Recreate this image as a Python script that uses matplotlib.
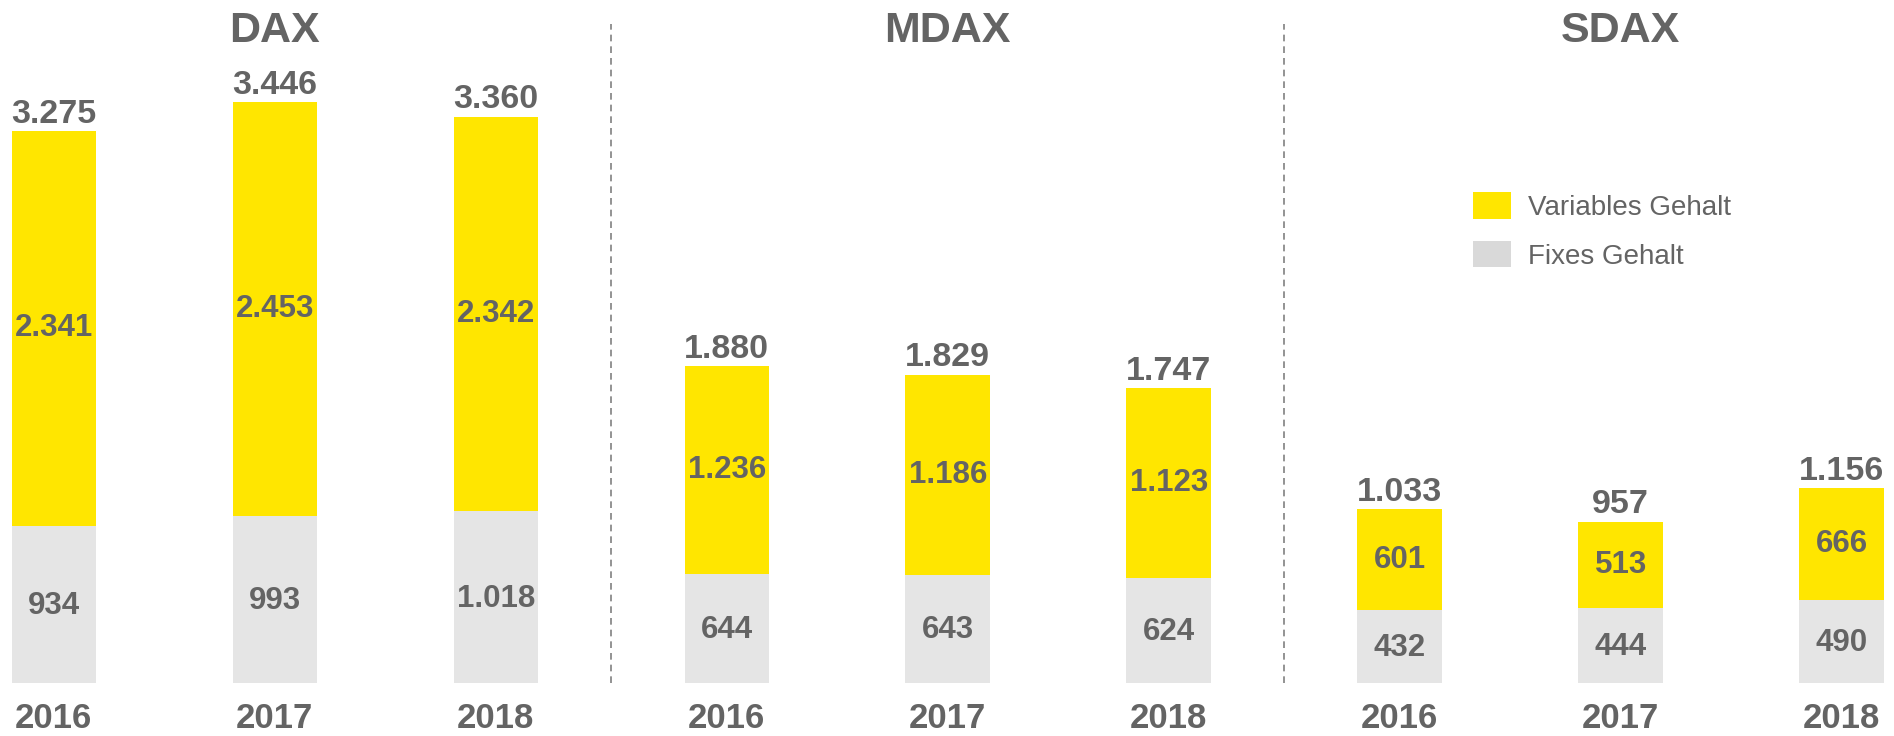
import matplotlib
matplotlib.use('Agg')
import matplotlib.pyplot as plt
from matplotlib.patches import Patch

# ── data ──────────────────────────────────────────────────────────────────────
indices = ['DAX', 'MDAX', 'SDAX']
years = ['2016', '2017', '2018']
fixed = [[934, 993, 1018], [644, 643, 624], [432, 444, 490]]
variable = [[2341, 2453, 2342], [1236, 1186, 1123], [601, 513, 666]]
totals = [[3275, 3446, 3360], [1880, 1829, 1747], [1033, 957, 1156]]

YELLOW = '#FFE600'
GREY_BAR = '#E5E5E5'
GREY_LEG = '#D9D9D9'
TXT = '#646464'
NARROW = ['Liberation Sans Narrow', 'Liberation Sans', 'DejaVu Sans']
REG = ['Liberation Sans', 'DejaVu Sans']


def de(v):
    return f'{v:,}'.replace(',', '.')


fig = plt.figure(figsize=(18.94, 7.36), dpi=100)
ax = fig.add_axes([0, 0, 1, 1])
ax.axis('off')

group_step = 3.045
bar_w = 0.382

for g, name in enumerate(indices):
    xs = [g * group_step + i for i in range(len(years))]
    ax.bar(xs, fixed[g], width=bar_w, color=GREY_BAR, lw=0)
    ax.bar(xs, variable[g], bottom=fixed[g], width=bar_w, color=YELLOW, lw=0)
    for x, f, v, t, yr in zip(xs, fixed[g], variable[g], totals[g], years):
        ax.text(x, f / 2 - 8, de(f), ha='center', va='center', fontsize=22.5,
                fontweight='bold', color=TXT, family=NARROW)
        ax.text(x, f + v / 2, de(v), ha='center', va='center', fontsize=22.5,
                fontweight='bold', color=TXT, family=NARROW)
        ax.annotate(de(t), xy=(x, t), xytext=(0, 6), textcoords='offset points',
                    ha='center', va='baseline', fontsize=24.5, fontweight='bold',
                    color=TXT, family=NARROW)
        # year label, kept just inside the bottom edge
        ax.text(x, -265, yr, ha='center', va='baseline', fontsize=25,
                fontweight='bold', color=TXT, family=NARROW)
    ax.text(xs[1], 3868, name, ha='center', va='center', fontsize=31,
            fontweight='bold', color=TXT, family=NARROW)
    if g > 0:
        sep = (g * group_step + (g - 1) * group_step + 2) / 2
        ax.plot([sep, sep], [0, 3909], color='#808080', lw=1.2,
                ls=(0, (4, 3)))

ax.set_xlim(-0.2434, 8.327)
ax.set_ylim(-314, 4051)

handles = [Patch(facecolor=YELLOW, edgecolor='none', label='Variables Gehalt'),
           Patch(facecolor=GREY_LEG, edgecolor='none', label='Fixes Gehalt')]
leg = fig.legend(handles=handles, loc='upper left',
                 bbox_to_anchor=(1473 / 1894, 1 - 192 / 736),
                 frameon=False, borderpad=0, borderaxespad=0,
                 handlelength=1.37, handleheight=1.1, handletextpad=0.61,
                 labelspacing=0.72, prop=dict(family=REG, size=20))
for t in leg.get_texts():
    t.set_color(TXT)

fig.savefig('out.png', dpi=100, facecolor='white')
